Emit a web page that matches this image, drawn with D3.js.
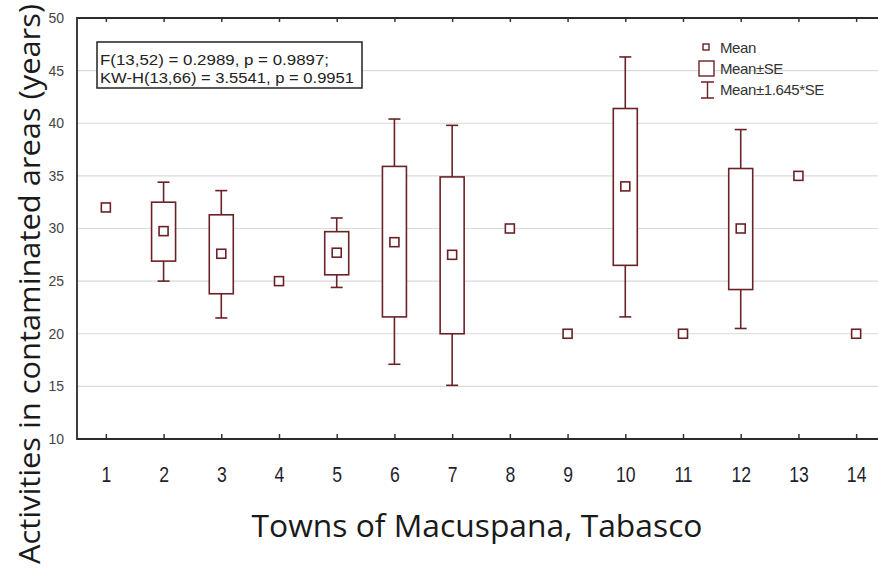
<!DOCTYPE html>
<html>
<head>
<meta charset="utf-8">
<script src="https://cdn.jsdelivr.net/npm/d3@7"></script>
<style>
  body { margin: 0; background: #fff; }
  svg { display: block; }
</style>
</head>
<body>
<svg class="chart"></svg>
<script>
// values
var towns = ["1", "2", "3", "4", "5", "6", "7", "8", "9", "10", "11", "12", "13", "14"];
var means = [32.0, 29.75, 27.6, 25.0, 27.7, 28.7, 27.5, 30.0, 20.0, 34.0, 20.0, 30.0, 35.0, 20.0];
var seLow = [null, 26.9, 23.8, null, 25.6, 21.6, 20.0, null, null, 26.5, null, 24.2, null, null];
var seHigh = [null, 32.5, 31.3, null, 29.7, 35.9, 34.9, null, null, 41.4, null, 35.7, null, null];
var ciLow = [null, 25.0, 21.5, null, 24.4, 17.1, 15.1, null, null, 21.6, null, 20.5, null, null];
var ciHigh = [null, 34.4, 33.6, null, 31.0, 40.4, 39.8, null, null, 46.3, null, 39.4, null, null];
var yTicks = [10, 15, 20, 25, 30, 35, 40, 45, 50];
var statLines = ["F(13,52) = 0.2989, p = 0.9897;", "KW-H(13,66) = 3.5541, p = 0.9951"];
var legendLabels = ["Mean", "Mean\u00b1SE", "Mean\u00b11.645*SE"];

(function show() {
    'use strict';

    var width = 878, height = 568;
    var left = 77, top = 18, bottom = 439, right = 885;
    var dark = "#6b2226";

    var svg = d3.select(".chart")
        .attr("width", width)
        .attr("height", height);

    var data = towns.map(function(t, i) {
        return {town: t, mean: means[i], seLow: seLow[i], seHigh: seHigh[i],
                ciLow: ciLow[i], ciHigh: ciHigh[i]};
    });

    var x = d3.scalePoint().domain(towns).range([left, right]).padding(0.5);
    var y = d3.scaleLinear().domain([10, 50]).range([bottom, top]);

    // grid lines
    svg.append("g").selectAll("line")
        .data(yTicks.filter(function(d) { return d > 10 && d < 50; }))
        .enter().append("line")
        .attr("x1", left).attr("x2", width)
        .attr("y1", function(d) { return y(d); })
        .attr("y2", function(d) { return y(d); })
        .attr("stroke", "#dadada")
        .attr("stroke-width", 1.2);

    // axes
    var bottomAxis = d3.axisBottom(x).tickSize(-5).tickPadding(27);
    var bottomG = svg.append("g")
        .attr("transform", "translate(0," + bottom + ")")
        .call(bottomAxis);
    bottomG.select(".domain").remove();
    bottomG.selectAll(".tick line").attr("stroke", "#333").attr("stroke-width", 1.5);
    // the tick numbers are tall and narrow in the original
    bottomG.selectAll(".tick text")
        .attr("fill", "#1f1f30")
        .attr("font-family", "'Liberation Sans', Arial, sans-serif")
        .attr("font-size", 22)
        .attr("transform", "scale(0.8,1)");

    var topAxis = d3.axisTop(x).tickSize(-4).tickFormat("");
    var topG = svg.append("g")
        .attr("transform", "translate(0," + top + ")")
        .call(topAxis);
    topG.select(".domain").remove();
    topG.selectAll(".tick line").attr("stroke", "#333").attr("stroke-width", 1.5);

    var leftAxis = d3.axisLeft(y).tickValues(yTicks).tickSize(0).tickPadding(13);
    var leftG = svg.append("g")
        .attr("transform", "translate(" + left + ",0)")
        .call(leftAxis);
    leftG.select(".domain").remove();
    leftG.selectAll(".tick text")
        .attr("fill", "#444")
        .attr("font-family", "'Liberation Sans', Arial, sans-serif")
        .attr("font-size", 14);

    // frame
    svg.append("path")
        .attr("d", "M" + width + "," + top + "H" + left + "V" + bottom + "H" + width)
        .attr("fill", "none")
        .attr("stroke", "#2b2b2b")
        .attr("stroke-width", 1.8);

    // boxes and whiskers
    var boxW = 24, capW = 12, sq = 9;
    var withBox = data.filter(function(d) { return d.seLow !== null; });

    var g = svg.append("g")
        .attr("stroke", dark)
        .attr("stroke-width", 1.6)
        .attr("fill", "none");

    g.selectAll(".whisker").data(withBox).enter().append("line")
        .attr("x1", function(d) { return x(d.town); })
        .attr("x2", function(d) { return x(d.town); })
        .attr("y1", function(d) { return y(d.ciLow); })
        .attr("y2", function(d) { return y(d.ciHigh); });

    g.selectAll(".capHigh").data(withBox).enter().append("line")
        .attr("x1", function(d) { return x(d.town) - capW / 2; })
        .attr("x2", function(d) { return x(d.town) + capW / 2; })
        .attr("y1", function(d) { return y(d.ciHigh); })
        .attr("y2", function(d) { return y(d.ciHigh); });

    g.selectAll(".capLow").data(withBox).enter().append("line")
        .attr("x1", function(d) { return x(d.town) - capW / 2; })
        .attr("x2", function(d) { return x(d.town) + capW / 2; })
        .attr("y1", function(d) { return y(d.ciLow); })
        .attr("y2", function(d) { return y(d.ciLow); });

    g.selectAll(".box").data(withBox).enter().append("rect")
        .attr("x", function(d) { return x(d.town) - boxW / 2; })
        .attr("y", function(d) { return y(d.seHigh); })
        .attr("width", boxW)
        .attr("height", function(d) { return y(d.seLow) - y(d.seHigh); })
        .attr("fill", "#fff");

    g.selectAll(".mean").data(data).enter().append("rect")
        .attr("x", function(d) { return x(d.town) - sq / 2; })
        .attr("y", function(d) { return y(d.mean) - sq / 2; })
        .attr("width", sq)
        .attr("height", sq)
        .attr("fill", "#fff");

    // stats box
    svg.append("rect")
        .attr("x", 97).attr("y", 42)
        .attr("width", 265).attr("height", 46)
        .attr("fill", "#fff")
        .attr("stroke", "#222")
        .attr("stroke-width", 1.5);
    svg.append("g").selectAll("text").data(statLines).enter().append("text")
        .attr("x", 100)
        .attr("y", function(d, i) { return 65 + i * 18; })
        .attr("textLength", function(d, i) { return i === 0 ? 229 : 254; })
        .attr("lengthAdjust", "spacingAndGlyphs")
        .attr("font-family", "'Liberation Sans', Arial, sans-serif")
        .attr("font-size", 14)
        .attr("fill", "#222")
        .text(function(d) { return d; });

    // legend
    var lg = svg.append("g");
    lg.append("rect").attr("x", 703).attr("y", 44).attr("width", 6).attr("height", 6)
        .attr("fill", "#fff").attr("stroke", dark).attr("stroke-width", 1.4);
    lg.append("rect").attr("x", 699).attr("y", 61).attr("width", 15).attr("height", 15)
        .attr("fill", "#fff").attr("stroke", dark).attr("stroke-width", 1.4);
    lg.append("path").attr("d", "M701,82H714M707.5,82V98M701,98H714")
        .attr("fill", "none").attr("stroke", dark).attr("stroke-width", 1.4);
    lg.selectAll("text").data(legendLabels).enter().append("text")
        .attr("x", 720)
        .attr("y", function(d, i) { return [53, 74, 95][i]; })
        .attr("font-family", "'Liberation Sans', Arial, sans-serif")
        .attr("font-size", 15)
        .attr("letter-spacing", -0.4)
        .attr("fill", "#333")
        .text(function(d) { return d; });

    // axis titles
    svg.append("text")
        .attr("x", 477).attr("y", 537)
        .attr("text-anchor", "middle")
        .attr("textLength", 451)
        .attr("lengthAdjust", "spacingAndGlyphs")
        .attr("font-family", "'Open Sans', 'Noto Sans', sans-serif")
        .attr("font-size", 31)
        .attr("fill", "#1a1a1a")
        .text("Towns of Macuspana, Tabasco");

    svg.append("text")
        .attr("transform", "translate(40,284) rotate(-90)")
        .attr("text-anchor", "middle")
        .attr("textLength", 560)
        .attr("lengthAdjust", "spacingAndGlyphs")
        .attr("font-family", "'Open Sans', 'Noto Sans', sans-serif")
        .attr("font-size", 30)
        .attr("fill", "#1a1a1a")
        .text("Activities in contaminated areas (years)");
})();
</script>
</body>
</html>
